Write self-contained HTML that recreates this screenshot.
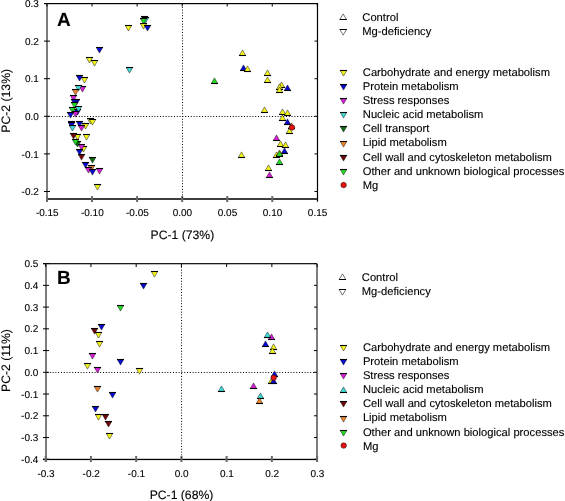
<!DOCTYPE html>
<html><head><meta charset="utf-8"><style>
html,body{margin:0;padding:0;background:#fff;width:565px;height:501px;overflow:hidden}
svg{display:block;will-change:transform}
text{font-family:"Liberation Sans",sans-serif;text-rendering:geometricPrecision;fill:#000;stroke:#000;stroke-width:0.18px;stroke-opacity:0.6}
</style></head><body>
<svg width="565" height="501" viewBox="0 0 565 501">
<rect width="565" height="501" fill="#fff"/>
<rect x="44" y="3" width="274" height="1.2" fill="#000"/>
<rect x="316.9" y="3" width="1.2" height="198.7" fill="#000"/>
<rect x="46" y="3.6" width="2" height="198.1" fill="#7c7c7c"/>
<rect x="47" y="198.1" width="270" height="1.8" fill="#2a2a2a"/>
<rect x="44" y="3.00" width="6" height="1" fill="#000"/>
<rect x="314.5" y="3.00" width="3" height="1" fill="#000"/>
<rect x="44" y="40.60" width="6" height="1" fill="#000"/>
<rect x="314.5" y="40.60" width="3" height="1" fill="#000"/>
<rect x="44" y="78.20" width="6" height="1" fill="#000"/>
<rect x="314.5" y="78.20" width="3" height="1" fill="#000"/>
<rect x="44" y="115.80" width="6" height="1" fill="#000"/>
<rect x="314.5" y="115.80" width="3" height="1" fill="#000"/>
<rect x="44" y="153.40" width="6" height="1" fill="#000"/>
<rect x="314.5" y="153.40" width="3" height="1" fill="#000"/>
<rect x="44" y="191.00" width="6" height="1" fill="#000"/>
<rect x="314.5" y="191.00" width="3" height="1" fill="#000"/>
<rect x="46.00" y="196" width="2" height="6" fill="#6a6a6a"/>
<rect x="46.50" y="3.5" width="1" height="3" fill="#000"/>
<rect x="91.05" y="196" width="2" height="6" fill="#6a6a6a"/>
<rect x="91.55" y="3.5" width="1" height="3" fill="#000"/>
<rect x="136.10" y="196" width="2" height="6" fill="#6a6a6a"/>
<rect x="136.60" y="3.5" width="1" height="3" fill="#000"/>
<rect x="181.15" y="196" width="2" height="6" fill="#6a6a6a"/>
<rect x="181.65" y="3.5" width="1" height="3" fill="#000"/>
<rect x="226.20" y="196" width="2" height="6" fill="#6a6a6a"/>
<rect x="226.70" y="3.5" width="1" height="3" fill="#000"/>
<rect x="271.25" y="196" width="2" height="6" fill="#6a6a6a"/>
<rect x="271.75" y="3.5" width="1" height="3" fill="#000"/>
<rect x="316.80" y="3.5" width="1" height="3" fill="#000"/>
<line x1="48" y1="116.5" x2="317" y2="116.5" stroke="#000" stroke-width="1" stroke-dasharray="1 1.8"/>
<line x1="182.5" y1="4" x2="182.5" y2="198" stroke="#000" stroke-width="1" stroke-dasharray="1 1.8"/>
<text x="38.8" y="7.10" font-size="10" text-anchor="end" font-family="Liberation Sans, sans-serif">0.3</text>
<text x="38.8" y="44.70" font-size="10" text-anchor="end" font-family="Liberation Sans, sans-serif">0.2</text>
<text x="38.8" y="82.30" font-size="10" text-anchor="end" font-family="Liberation Sans, sans-serif">0.1</text>
<text x="38.8" y="119.90" font-size="10" text-anchor="end" font-family="Liberation Sans, sans-serif">0.0</text>
<text x="38.8" y="157.50" font-size="10" text-anchor="end" font-family="Liberation Sans, sans-serif">-0.1</text>
<text x="38.8" y="195.10" font-size="10" text-anchor="end" font-family="Liberation Sans, sans-serif">-0.2</text>
<text x="47.30" y="216.3" font-size="10" text-anchor="middle" font-family="Liberation Sans, sans-serif">-0.15</text>
<text x="92.35" y="216.3" font-size="10" text-anchor="middle" font-family="Liberation Sans, sans-serif">-0.10</text>
<text x="137.40" y="216.3" font-size="10" text-anchor="middle" font-family="Liberation Sans, sans-serif">-0.05</text>
<text x="182.45" y="216.3" font-size="10" text-anchor="middle" font-family="Liberation Sans, sans-serif">0.00</text>
<text x="227.50" y="216.3" font-size="10" text-anchor="middle" font-family="Liberation Sans, sans-serif">0.05</text>
<text x="272.55" y="216.3" font-size="10" text-anchor="middle" font-family="Liberation Sans, sans-serif">0.10</text>
<text x="317.60" y="216.3" font-size="10" text-anchor="middle" font-family="Liberation Sans, sans-serif">0.15</text>
<text x="182.4" y="238.8" font-size="12.2" text-anchor="middle" font-family="Liberation Sans, sans-serif">PC-1 (73%)</text>
<text transform="translate(9.6 100.8) rotate(-90)" x="0" y="0" font-size="12.2" text-anchor="middle" font-family="Liberation Sans, sans-serif">PC-2 (13%)</text>
<text x="57" y="25.7" font-size="19" font-weight="bold" font-family="Liberation Sans, sans-serif">A</text>
<g>
<path d="M125.30 25.50L131.70 25.50L128.50 31.10Z" fill="#f4f41c" stroke="#000" stroke-opacity="0.75" stroke-width="0.6"/><path d="M125.00 25.50H132.00" stroke="#000" stroke-width="1.1"/>
<path d="M141.30 16.50L147.70 16.50L144.50 22.10Z" fill="#0c6e0c" stroke="#000" stroke-opacity="0.75" stroke-width="0.6"/><path d="M141.00 16.50H148.00" stroke="#000" stroke-width="1.1"/>
<path d="M142.30 17.50L148.70 17.50L145.50 23.10Z" fill="#3cdcd8" stroke="#000" stroke-opacity="0.75" stroke-width="0.6"/><path d="M142.00 17.50H149.00" stroke="#000" stroke-width="1.1"/>
<path d="M140.30 18.50L146.70 18.50L143.50 24.10Z" fill="#22dc22" stroke="#000" stroke-opacity="0.75" stroke-width="0.6"/><path d="M140.00 18.50H147.00" stroke="#000" stroke-width="1.1"/>
<path d="M140.30 23.50L146.70 23.50L143.50 29.10Z" fill="#f4f41c" stroke="#000" stroke-opacity="0.75" stroke-width="0.6"/><path d="M140.00 23.50H147.00" stroke="#000" stroke-width="1.1"/>
<path d="M144.30 25.50L150.70 25.50L147.50 31.10Z" fill="#0808d4" stroke="#000" stroke-opacity="0.75" stroke-width="0.6"/><path d="M144.00 25.50H151.00" stroke="#000" stroke-width="1.1"/>
<path d="M96.30 47.50L102.70 47.50L99.50 53.10Z" fill="#0808d4" stroke="#000" stroke-opacity="0.75" stroke-width="0.6"/><path d="M96.00 47.50H103.00" stroke="#000" stroke-width="1.1"/>
<path d="M86.30 57.50L92.70 57.50L89.50 63.10Z" fill="#f4f41c" stroke="#000" stroke-opacity="0.75" stroke-width="0.6"/><path d="M86.00 57.50H93.00" stroke="#000" stroke-width="1.1"/>
<path d="M91.30 60.50L97.70 60.50L94.50 66.10Z" fill="#f4f41c" stroke="#000" stroke-opacity="0.75" stroke-width="0.6"/><path d="M91.00 60.50H98.00" stroke="#000" stroke-width="1.1"/>
<path d="M126.30 67.50L132.70 67.50L129.50 73.10Z" fill="#3cdcd8" stroke="#000" stroke-opacity="0.75" stroke-width="0.6"/><path d="M126.00 67.50H133.00" stroke="#000" stroke-width="1.1"/>
<path d="M76.30 75.50L82.70 75.50L79.50 81.10Z" fill="#0808d4" stroke="#000" stroke-opacity="0.75" stroke-width="0.6"/><path d="M76.00 75.50H83.00" stroke="#000" stroke-width="1.1"/>
<path d="M81.30 77.50L87.70 77.50L84.50 83.10Z" fill="#f4f41c" stroke="#000" stroke-opacity="0.75" stroke-width="0.6"/><path d="M81.00 77.50H88.00" stroke="#000" stroke-width="1.1"/>
<path d="M79.30 86.50L85.70 86.50L82.50 92.10Z" fill="#d81ed8" stroke="#000" stroke-opacity="0.75" stroke-width="0.6"/><path d="M79.00 86.50H86.00" stroke="#000" stroke-width="1.1"/>
<path d="M75.30 85.50L81.70 85.50L78.50 91.10Z" fill="#3cdcd8" stroke="#000" stroke-opacity="0.75" stroke-width="0.6"/><path d="M75.00 85.50H82.00" stroke="#000" stroke-width="1.1"/>
<path d="M72.30 89.50L78.70 89.50L75.50 95.10Z" fill="#ec842a" stroke="#000" stroke-opacity="0.75" stroke-width="0.6"/><path d="M72.00 89.50H79.00" stroke="#000" stroke-width="1.1"/>
<path d="M70.30 95.50L76.70 95.50L73.50 101.10Z" fill="#d81ed8" stroke="#000" stroke-opacity="0.75" stroke-width="0.6"/><path d="M70.00 95.50H77.00" stroke="#000" stroke-width="1.1"/>
<path d="M73.30 99.50L79.70 99.50L76.50 105.10Z" fill="#0808d4" stroke="#000" stroke-opacity="0.75" stroke-width="0.6"/><path d="M73.00 99.50H80.00" stroke="#000" stroke-width="1.1"/>
<path d="M71.30 99.50L77.70 99.50L74.50 105.10Z" fill="#0808d4" stroke="#000" stroke-opacity="0.75" stroke-width="0.6"/><path d="M71.00 99.50H78.00" stroke="#000" stroke-width="1.1"/>
<path d="M71.30 102.50L77.70 102.50L74.50 108.10Z" fill="#22dc22" stroke="#000" stroke-opacity="0.75" stroke-width="0.6"/><path d="M71.00 102.50H78.00" stroke="#000" stroke-width="1.1"/>
<path d="M74.30 109.50L80.70 109.50L77.50 115.10Z" fill="#0808d4" stroke="#000" stroke-opacity="0.75" stroke-width="0.6"/><path d="M74.00 109.50H81.00" stroke="#000" stroke-width="1.1"/>
<path d="M75.30 106.50L81.70 106.50L78.50 112.10Z" fill="#3cdcd8" stroke="#000" stroke-opacity="0.75" stroke-width="0.6"/><path d="M75.00 106.50H82.00" stroke="#000" stroke-width="1.1"/>
<path d="M69.30 107.50L75.70 107.50L72.50 113.10Z" fill="#22dc22" stroke="#000" stroke-opacity="0.75" stroke-width="0.6"/><path d="M69.00 107.50H76.00" stroke="#000" stroke-width="1.1"/>
<path d="M72.30 111.50L78.70 111.50L75.50 117.10Z" fill="#d81ed8" stroke="#000" stroke-opacity="0.75" stroke-width="0.6"/><path d="M72.00 111.50H79.00" stroke="#000" stroke-width="1.1"/>
<path d="M67.30 112.50L73.70 112.50L70.50 118.10Z" fill="#0808d4" stroke="#000" stroke-opacity="0.75" stroke-width="0.6"/><path d="M67.00 112.50H74.00" stroke="#000" stroke-width="1.1"/>
<path d="M68.30 121.50L74.70 121.50L71.50 127.10Z" fill="#0808d4" stroke="#000" stroke-opacity="0.75" stroke-width="0.6"/><path d="M68.00 121.50H75.00" stroke="#000" stroke-width="1.1"/>
<path d="M68.30 122.50L74.70 122.50L71.50 128.10Z" fill="#0808d4" stroke="#000" stroke-opacity="0.75" stroke-width="0.6"/><path d="M68.00 122.50H75.00" stroke="#000" stroke-width="1.1"/>
<path d="M69.30 125.50L75.70 125.50L72.50 131.10Z" fill="#3cdcd8" stroke="#000" stroke-opacity="0.75" stroke-width="0.6"/><path d="M69.00 125.50H76.00" stroke="#000" stroke-width="1.1"/>
<path d="M76.30 121.50L82.70 121.50L79.50 127.10Z" fill="#0808d4" stroke="#000" stroke-opacity="0.75" stroke-width="0.6"/><path d="M76.00 121.50H83.00" stroke="#000" stroke-width="1.1"/>
<path d="M82.30 123.50L88.70 123.50L85.50 129.10Z" fill="#f4f41c" stroke="#000" stroke-opacity="0.75" stroke-width="0.6"/><path d="M82.00 123.50H89.00" stroke="#000" stroke-width="1.1"/>
<path d="M78.30 125.50L84.70 125.50L81.50 131.10Z" fill="#d81ed8" stroke="#000" stroke-opacity="0.75" stroke-width="0.6"/><path d="M78.00 125.50H85.00" stroke="#000" stroke-width="1.1"/>
<path d="M87.30 118.50L93.70 118.50L90.50 124.10Z" fill="#f4f41c" stroke="#000" stroke-opacity="0.75" stroke-width="0.6"/><path d="M87.00 118.50H94.00" stroke="#000" stroke-width="1.1"/>
<path d="M89.30 119.50L95.70 119.50L92.50 125.10Z" fill="#f4f41c" stroke="#000" stroke-opacity="0.75" stroke-width="0.6"/><path d="M89.00 119.50H96.00" stroke="#000" stroke-width="1.1"/>
<path d="M74.30 134.50L80.70 134.50L77.50 140.10Z" fill="#f4f41c" stroke="#000" stroke-opacity="0.75" stroke-width="0.6"/><path d="M74.00 134.50H81.00" stroke="#000" stroke-width="1.1"/>
<path d="M70.30 133.50L76.70 133.50L73.50 139.10Z" fill="#720606" stroke="#000" stroke-opacity="0.75" stroke-width="0.6"/><path d="M70.00 133.50H77.00" stroke="#000" stroke-width="1.1"/>
<path d="M83.30 134.50L89.70 134.50L86.50 140.10Z" fill="#f4f41c" stroke="#000" stroke-opacity="0.75" stroke-width="0.6"/><path d="M83.00 134.50H90.00" stroke="#000" stroke-width="1.1"/>
<path d="M74.30 141.50L80.70 141.50L77.50 147.10Z" fill="#0c6e0c" stroke="#000" stroke-opacity="0.75" stroke-width="0.6"/><path d="M74.00 141.50H81.00" stroke="#000" stroke-width="1.1"/>
<path d="M72.30 139.50L78.70 139.50L75.50 145.10Z" fill="#22dc22" stroke="#000" stroke-opacity="0.75" stroke-width="0.6"/><path d="M72.00 139.50H79.00" stroke="#000" stroke-width="1.1"/>
<path d="M80.30 146.50L86.70 146.50L83.50 152.10Z" fill="#f4f41c" stroke="#000" stroke-opacity="0.75" stroke-width="0.6"/><path d="M80.00 146.50H87.00" stroke="#000" stroke-width="1.1"/>
<path d="M78.30 144.50L84.70 144.50L81.50 150.10Z" fill="#d81ed8" stroke="#000" stroke-opacity="0.75" stroke-width="0.6"/><path d="M78.00 144.50H85.00" stroke="#000" stroke-width="1.1"/>
<path d="M76.30 149.50L82.70 149.50L79.50 155.10Z" fill="#0808d4" stroke="#000" stroke-opacity="0.75" stroke-width="0.6"/><path d="M76.00 149.50H83.00" stroke="#000" stroke-width="1.1"/>
<path d="M78.30 154.50L84.70 154.50L81.50 160.10Z" fill="#720606" stroke="#000" stroke-opacity="0.75" stroke-width="0.6"/><path d="M78.00 154.50H85.00" stroke="#000" stroke-width="1.1"/>
<path d="M89.30 157.50L95.70 157.50L92.50 163.10Z" fill="#0c6e0c" stroke="#000" stroke-opacity="0.75" stroke-width="0.6"/><path d="M89.00 157.50H96.00" stroke="#000" stroke-width="1.1"/>
<path d="M82.30 162.50L88.70 162.50L85.50 168.10Z" fill="#0808d4" stroke="#000" stroke-opacity="0.75" stroke-width="0.6"/><path d="M82.00 162.50H89.00" stroke="#000" stroke-width="1.1"/>
<path d="M88.30 165.50L94.70 165.50L91.50 171.10Z" fill="#ec842a" stroke="#000" stroke-opacity="0.75" stroke-width="0.6"/><path d="M88.00 165.50H95.00" stroke="#000" stroke-width="1.1"/>
<path d="M85.30 167.50L91.70 167.50L88.50 173.10Z" fill="#d81ed8" stroke="#000" stroke-opacity="0.75" stroke-width="0.6"/><path d="M85.00 167.50H92.00" stroke="#000" stroke-width="1.1"/>
<path d="M89.30 169.50L95.70 169.50L92.50 175.10Z" fill="#0808d4" stroke="#000" stroke-opacity="0.75" stroke-width="0.6"/><path d="M89.00 169.50H96.00" stroke="#000" stroke-width="1.1"/>
<path d="M96.30 168.50L102.70 168.50L99.50 174.10Z" fill="#d81ed8" stroke="#000" stroke-opacity="0.75" stroke-width="0.6"/><path d="M96.00 168.50H103.00" stroke="#000" stroke-width="1.1"/>
<path d="M94.30 184.50L100.70 184.50L97.50 190.10Z" fill="#f4f41c" stroke="#000" stroke-opacity="0.75" stroke-width="0.6"/><path d="M94.00 184.50H101.00" stroke="#000" stroke-width="1.1"/>
<path d="M239.30 55.50L245.70 55.50L242.50 49.90Z" fill="#f4f41c" stroke="#000" stroke-opacity="0.75" stroke-width="0.6"/><path d="M239.00 55.50H246.00" stroke="#000" stroke-width="1.1"/>
<path d="M240.30 70.50L246.70 70.50L243.50 64.90Z" fill="#0808d4" stroke="#000" stroke-opacity="0.75" stroke-width="0.6"/><path d="M240.00 70.50H247.00" stroke="#000" stroke-width="1.1"/>
<path d="M244.30 71.50L250.70 71.50L247.50 65.90Z" fill="#f4f41c" stroke="#000" stroke-opacity="0.75" stroke-width="0.6"/><path d="M244.00 71.50H251.00" stroke="#000" stroke-width="1.1"/>
<path d="M211.30 83.50L217.70 83.50L214.50 77.90Z" fill="#22dc22" stroke="#000" stroke-opacity="0.75" stroke-width="0.6"/><path d="M211.00 83.50H218.00" stroke="#000" stroke-width="1.1"/>
<path d="M264.30 75.50L270.70 75.50L267.50 69.90Z" fill="#f4f41c" stroke="#000" stroke-opacity="0.75" stroke-width="0.6"/><path d="M264.00 75.50H271.00" stroke="#000" stroke-width="1.1"/>
<path d="M264.30 82.50L270.70 82.50L267.50 76.90Z" fill="#f4f41c" stroke="#000" stroke-opacity="0.75" stroke-width="0.6"/><path d="M264.00 82.50H271.00" stroke="#000" stroke-width="1.1"/>
<path d="M278.30 87.50L284.70 87.50L281.50 81.90Z" fill="#f4f41c" stroke="#000" stroke-opacity="0.75" stroke-width="0.6"/><path d="M278.00 87.50H285.00" stroke="#000" stroke-width="1.1"/>
<path d="M284.30 90.50L290.70 90.50L287.50 84.90Z" fill="#0808d4" stroke="#000" stroke-opacity="0.75" stroke-width="0.6"/><path d="M284.00 90.50H291.00" stroke="#000" stroke-width="1.1"/>
<path d="M276.30 89.50L282.70 89.50L279.50 83.90Z" fill="#f4f41c" stroke="#000" stroke-opacity="0.75" stroke-width="0.6"/><path d="M276.00 89.50H283.00" stroke="#000" stroke-width="1.1"/>
<path d="M276.30 92.50L282.70 92.50L279.50 86.90Z" fill="#f4f41c" stroke="#000" stroke-opacity="0.75" stroke-width="0.6"/><path d="M276.00 92.50H283.00" stroke="#000" stroke-width="1.1"/>
<path d="M261.30 112.50L267.70 112.50L264.50 106.90Z" fill="#f4f41c" stroke="#000" stroke-opacity="0.75" stroke-width="0.6"/><path d="M261.00 112.50H268.00" stroke="#000" stroke-width="1.1"/>
<path d="M279.30 114.50L285.70 114.50L282.50 108.90Z" fill="#f4f41c" stroke="#000" stroke-opacity="0.75" stroke-width="0.6"/><path d="M279.00 114.50H286.00" stroke="#000" stroke-width="1.1"/>
<path d="M284.30 115.50L290.70 115.50L287.50 109.90Z" fill="#f4f41c" stroke="#000" stroke-opacity="0.75" stroke-width="0.6"/><path d="M284.00 115.50H291.00" stroke="#000" stroke-width="1.1"/>
<path d="M279.30 120.50L285.70 120.50L282.50 114.90Z" fill="#f4f41c" stroke="#000" stroke-opacity="0.75" stroke-width="0.6"/><path d="M279.00 120.50H286.00" stroke="#000" stroke-width="1.1"/>
<path d="M284.30 124.50L290.70 124.50L287.50 118.90Z" fill="#0808d4" stroke="#000" stroke-opacity="0.75" stroke-width="0.6"/><path d="M284.00 124.50H291.00" stroke="#000" stroke-width="1.1"/>
<path d="M288.30 128.50L294.70 128.50L291.50 122.90Z" fill="#ec842a" stroke="#000" stroke-opacity="0.75" stroke-width="0.6"/><path d="M288.00 128.50H295.00" stroke="#000" stroke-width="1.1"/>
<path d="M286.30 133.50L292.70 133.50L289.50 127.90Z" fill="#f4f41c" stroke="#000" stroke-opacity="0.75" stroke-width="0.6"/><path d="M286.00 133.50H293.00" stroke="#000" stroke-width="1.1"/>
<path d="M273.30 140.50L279.70 140.50L276.50 134.90Z" fill="#d81ed8" stroke="#000" stroke-opacity="0.75" stroke-width="0.6"/><path d="M273.00 140.50H280.00" stroke="#000" stroke-width="1.1"/>
<path d="M277.30 146.50L283.70 146.50L280.50 140.90Z" fill="#f4f41c" stroke="#000" stroke-opacity="0.75" stroke-width="0.6"/><path d="M277.00 146.50H284.00" stroke="#000" stroke-width="1.1"/>
<path d="M282.30 147.50L288.70 147.50L285.50 141.90Z" fill="#f4f41c" stroke="#000" stroke-opacity="0.75" stroke-width="0.6"/><path d="M282.00 147.50H289.00" stroke="#000" stroke-width="1.1"/>
<path d="M281.30 153.50L287.70 153.50L284.50 147.90Z" fill="#0808d4" stroke="#000" stroke-opacity="0.75" stroke-width="0.6"/><path d="M281.00 153.50H288.00" stroke="#000" stroke-width="1.1"/>
<path d="M273.30 157.50L279.70 157.50L276.50 151.90Z" fill="#f4f41c" stroke="#000" stroke-opacity="0.75" stroke-width="0.6"/><path d="M273.00 157.50H280.00" stroke="#000" stroke-width="1.1"/>
<path d="M276.30 155.50L282.70 155.50L279.50 149.90Z" fill="#f4f41c" stroke="#000" stroke-opacity="0.75" stroke-width="0.6"/><path d="M276.00 155.50H283.00" stroke="#000" stroke-width="1.1"/>
<path d="M276.30 156.50L282.70 156.50L279.50 150.90Z" fill="#22dc22" stroke="#000" stroke-opacity="0.75" stroke-width="0.6"/><path d="M276.00 156.50H283.00" stroke="#000" stroke-width="1.1"/>
<path d="M276.30 164.50L282.70 164.50L279.50 158.90Z" fill="#22dc22" stroke="#000" stroke-opacity="0.75" stroke-width="0.6"/><path d="M276.00 164.50H283.00" stroke="#000" stroke-width="1.1"/>
<path d="M265.30 170.50L271.70 170.50L268.50 164.90Z" fill="#f4f41c" stroke="#000" stroke-opacity="0.75" stroke-width="0.6"/><path d="M265.00 170.50H272.00" stroke="#000" stroke-width="1.1"/>
<path d="M266.30 177.50L272.70 177.50L269.50 171.90Z" fill="#d81ed8" stroke="#000" stroke-opacity="0.75" stroke-width="0.6"/><path d="M266.00 177.50H273.00" stroke="#000" stroke-width="1.1"/>
<path d="M238.30 157.50L244.70 157.50L241.50 151.90Z" fill="#f4f41c" stroke="#000" stroke-opacity="0.75" stroke-width="0.6"/><path d="M238.00 157.50H245.00" stroke="#000" stroke-width="1.1"/>
<circle cx="292.00" cy="127.50" r="2.75" fill="#e81212" stroke="#000" stroke-width="0.6" stroke-opacity="0.8"/>
</g>
<g stroke="#444" stroke-width="0.75" fill="none">
<path d="M339.9 19.5H346.5L343.2 13.9Z"/>
<path d="M339.9 29.5H346.5L343.2 35.1Z"/>
<path d="M339.7 19.5H346.7M339.7 29.5H346.7" stroke="#000" stroke-width="1.1"/>
</g>
<text x="362.3" y="21.1" font-size="11.2" font-family="Liberation Sans, sans-serif">Control</text>
<text x="362.3" y="35.3" font-size="11.2" font-family="Liberation Sans, sans-serif">Mg-deficiency</text>
<g>
<path d="M340.30 70.50L346.70 70.50L343.50 76.10Z" fill="#f4f41c" stroke="#000" stroke-opacity="0.75" stroke-width="0.6"/><path d="M340.00 70.50H347.00" stroke="#000" stroke-width="1.1"/>
<path d="M340.30 84.50L346.70 84.50L343.50 90.10Z" fill="#0808d4" stroke="#000" stroke-opacity="0.75" stroke-width="0.6"/><path d="M340.00 84.50H347.00" stroke="#000" stroke-width="1.1"/>
<path d="M340.30 98.50L346.70 98.50L343.50 104.10Z" fill="#d81ed8" stroke="#000" stroke-opacity="0.75" stroke-width="0.6"/><path d="M340.00 98.50H347.00" stroke="#000" stroke-width="1.1"/>
<path d="M340.30 112.50L346.70 112.50L343.50 118.10Z" fill="#3cdcd8" stroke="#000" stroke-opacity="0.75" stroke-width="0.6"/><path d="M340.00 112.50H347.00" stroke="#000" stroke-width="1.1"/>
<path d="M340.30 126.50L346.70 126.50L343.50 132.10Z" fill="#0c6e0c" stroke="#000" stroke-opacity="0.75" stroke-width="0.6"/><path d="M340.00 126.50H347.00" stroke="#000" stroke-width="1.1"/>
<path d="M340.30 141.50L346.70 141.50L343.50 147.10Z" fill="#ec842a" stroke="#000" stroke-opacity="0.75" stroke-width="0.6"/><path d="M340.00 141.50H347.00" stroke="#000" stroke-width="1.1"/>
<path d="M340.30 155.50L346.70 155.50L343.50 161.10Z" fill="#720606" stroke="#000" stroke-opacity="0.75" stroke-width="0.6"/><path d="M340.00 155.50H347.00" stroke="#000" stroke-width="1.1"/>
<path d="M340.30 169.50L346.70 169.50L343.50 175.10Z" fill="#22dc22" stroke="#000" stroke-opacity="0.75" stroke-width="0.6"/><path d="M340.00 169.50H347.00" stroke="#000" stroke-width="1.1"/>
<circle cx="343.60" cy="185.10" r="2.75" fill="#e81212" stroke="#000" stroke-width="0.6" stroke-opacity="0.8"/>
</g>
<text x="362.8" y="75.80" font-size="11.2" font-family="Liberation Sans, sans-serif">Carbohydrate and energy metabolism</text>
<text x="362.8" y="89.92" font-size="11.2" font-family="Liberation Sans, sans-serif">Protein metabolism</text>
<text x="362.8" y="104.04" font-size="11.2" font-family="Liberation Sans, sans-serif">Stress responses</text>
<text x="362.8" y="118.16" font-size="11.2" font-family="Liberation Sans, sans-serif">Nucleic acid metabolism</text>
<text x="362.8" y="132.28" font-size="11.2" font-family="Liberation Sans, sans-serif">Cell transport</text>
<text x="362.8" y="146.40" font-size="11.2" font-family="Liberation Sans, sans-serif">Lipid metabolism</text>
<text x="362.8" y="160.52" font-size="11.2" font-family="Liberation Sans, sans-serif">Cell wall and cytoskeleton metabolism</text>
<text x="362.8" y="174.64" font-size="11.2" font-family="Liberation Sans, sans-serif">Other and unknown biological processes</text>
<text x="362.8" y="188.76" font-size="11.2" font-family="Liberation Sans, sans-serif">Mg</text>
<rect x="43" y="263" width="273.5" height="1.3" fill="#1a1a1a"/>
<rect x="43" y="458.8" width="273.5" height="1.3" fill="#000"/>
<rect x="45" y="263.5" width="2" height="198.5" fill="#7c7c7c"/>
<rect x="316" y="263.5" width="2" height="198.5" fill="#7c7c7c"/>
<rect x="43" y="263.10" width="6" height="1" fill="#000"/>
<rect x="314" y="263.10" width="3" height="1" fill="#000"/>
<text x="38.3" y="267.20" font-size="10" text-anchor="end" font-family="Liberation Sans, sans-serif">0.5</text>
<rect x="43" y="284.84" width="6" height="1" fill="#000"/>
<rect x="314" y="284.84" width="3" height="1" fill="#000"/>
<text x="38.3" y="288.94" font-size="10" text-anchor="end" font-family="Liberation Sans, sans-serif">0.4</text>
<rect x="43" y="306.58" width="6" height="1" fill="#000"/>
<rect x="314" y="306.58" width="3" height="1" fill="#000"/>
<text x="38.3" y="310.68" font-size="10" text-anchor="end" font-family="Liberation Sans, sans-serif">0.3</text>
<rect x="43" y="328.32" width="6" height="1" fill="#000"/>
<rect x="314" y="328.32" width="3" height="1" fill="#000"/>
<text x="38.3" y="332.42" font-size="10" text-anchor="end" font-family="Liberation Sans, sans-serif">0.2</text>
<rect x="43" y="350.06" width="6" height="1" fill="#000"/>
<rect x="314" y="350.06" width="3" height="1" fill="#000"/>
<text x="38.3" y="354.16" font-size="10" text-anchor="end" font-family="Liberation Sans, sans-serif">0.1</text>
<rect x="43" y="371.80" width="6" height="1" fill="#000"/>
<rect x="314" y="371.80" width="3" height="1" fill="#000"/>
<text x="38.3" y="375.90" font-size="10" text-anchor="end" font-family="Liberation Sans, sans-serif">0.0</text>
<rect x="43" y="393.54" width="6" height="1" fill="#000"/>
<rect x="314" y="393.54" width="3" height="1" fill="#000"/>
<text x="38.3" y="397.64" font-size="10" text-anchor="end" font-family="Liberation Sans, sans-serif">-0.1</text>
<rect x="43" y="415.28" width="6" height="1" fill="#000"/>
<rect x="314" y="415.28" width="3" height="1" fill="#000"/>
<text x="38.3" y="419.38" font-size="10" text-anchor="end" font-family="Liberation Sans, sans-serif">-0.2</text>
<rect x="43" y="437.02" width="6" height="1" fill="#000"/>
<rect x="314" y="437.02" width="3" height="1" fill="#000"/>
<text x="38.3" y="441.12" font-size="10" text-anchor="end" font-family="Liberation Sans, sans-serif">-0.3</text>
<rect x="43" y="458.76" width="6" height="1" fill="#000"/>
<rect x="314" y="458.76" width="3" height="1" fill="#000"/>
<text x="38.3" y="462.86" font-size="10" text-anchor="end" font-family="Liberation Sans, sans-serif">-0.4</text>
<rect x="44.71" y="456" width="2" height="6" fill="#6a6a6a"/>
<rect x="45.21" y="264" width="1" height="3" fill="#000"/>
<text x="46.01" y="476.5" font-size="10" text-anchor="middle" font-family="Liberation Sans, sans-serif">-0.3</text>
<rect x="89.94" y="456" width="2" height="6" fill="#6a6a6a"/>
<rect x="90.44" y="264" width="1" height="3" fill="#000"/>
<text x="91.24" y="476.5" font-size="10" text-anchor="middle" font-family="Liberation Sans, sans-serif">-0.2</text>
<rect x="135.17" y="456" width="2" height="6" fill="#6a6a6a"/>
<rect x="135.67" y="264" width="1" height="3" fill="#000"/>
<text x="136.47" y="476.5" font-size="10" text-anchor="middle" font-family="Liberation Sans, sans-serif">-0.1</text>
<rect x="180.40" y="456" width="2" height="6" fill="#6a6a6a"/>
<rect x="180.90" y="264" width="1" height="3" fill="#000"/>
<text x="181.70" y="476.5" font-size="10" text-anchor="middle" font-family="Liberation Sans, sans-serif">0.0</text>
<rect x="225.63" y="456" width="2" height="6" fill="#6a6a6a"/>
<rect x="226.13" y="264" width="1" height="3" fill="#000"/>
<text x="226.93" y="476.5" font-size="10" text-anchor="middle" font-family="Liberation Sans, sans-serif">0.1</text>
<rect x="270.86" y="456" width="2" height="6" fill="#6a6a6a"/>
<rect x="271.36" y="264" width="1" height="3" fill="#000"/>
<text x="272.16" y="476.5" font-size="10" text-anchor="middle" font-family="Liberation Sans, sans-serif">0.2</text>
<rect x="316.09" y="456" width="2" height="6" fill="#6a6a6a"/>
<rect x="316.59" y="264" width="1" height="3" fill="#000"/>
<text x="317.39" y="476.5" font-size="10" text-anchor="middle" font-family="Liberation Sans, sans-serif">0.3</text>
<line x1="47" y1="372.5" x2="316" y2="372.5" stroke="#000" stroke-width="1" stroke-dasharray="1 1.8"/>
<line x1="181.5" y1="264" x2="181.6" y2="458" stroke="#000" stroke-width="1" stroke-dasharray="1 1.8"/>
<text x="181.5" y="498.6" font-size="12.2" text-anchor="middle" font-family="Liberation Sans, sans-serif">PC-1 (68%)</text>
<text transform="translate(9.6 360.5) rotate(-90)" x="0" y="0" font-size="12.2" text-anchor="middle" font-family="Liberation Sans, sans-serif">PC-2 (11%)</text>
<text x="57" y="284" font-size="19" font-weight="bold" font-family="Liberation Sans, sans-serif">B</text>
<g>
<path d="M151.30 271.50L157.70 271.50L154.50 277.10Z" fill="#f4f41c" stroke="#000" stroke-opacity="0.75" stroke-width="0.6"/><path d="M151.00 271.50H158.00" stroke="#000" stroke-width="1.1"/>
<path d="M140.30 283.50L146.70 283.50L143.50 289.10Z" fill="#0808d4" stroke="#000" stroke-opacity="0.75" stroke-width="0.6"/><path d="M140.00 283.50H147.00" stroke="#000" stroke-width="1.1"/>
<path d="M117.30 305.50L123.70 305.50L120.50 311.10Z" fill="#22dc22" stroke="#000" stroke-opacity="0.75" stroke-width="0.6"/><path d="M117.00 305.50H124.00" stroke="#000" stroke-width="1.1"/>
<path d="M98.30 324.50L104.70 324.50L101.50 330.10Z" fill="#0808d4" stroke="#000" stroke-opacity="0.75" stroke-width="0.6"/><path d="M98.00 324.50H105.00" stroke="#000" stroke-width="1.1"/>
<path d="M91.30 328.50L97.70 328.50L94.50 334.10Z" fill="#720606" stroke="#000" stroke-opacity="0.75" stroke-width="0.6"/><path d="M91.00 328.50H98.00" stroke="#000" stroke-width="1.1"/>
<path d="M95.30 332.50L101.70 332.50L98.50 338.10Z" fill="#f4f41c" stroke="#000" stroke-opacity="0.75" stroke-width="0.6"/><path d="M95.00 332.50H102.00" stroke="#000" stroke-width="1.1"/>
<path d="M96.30 341.50L102.70 341.50L99.50 347.10Z" fill="#f4f41c" stroke="#000" stroke-opacity="0.75" stroke-width="0.6"/><path d="M96.00 341.50H103.00" stroke="#000" stroke-width="1.1"/>
<path d="M89.30 353.50L95.70 353.50L92.50 359.10Z" fill="#d81ed8" stroke="#000" stroke-opacity="0.75" stroke-width="0.6"/><path d="M89.00 353.50H96.00" stroke="#000" stroke-width="1.1"/>
<path d="M117.30 359.50L123.70 359.50L120.50 365.10Z" fill="#0808d4" stroke="#000" stroke-opacity="0.75" stroke-width="0.6"/><path d="M117.00 359.50H124.00" stroke="#000" stroke-width="1.1"/>
<path d="M84.30 363.50L90.70 363.50L87.50 369.10Z" fill="#f4f41c" stroke="#000" stroke-opacity="0.75" stroke-width="0.6"/><path d="M84.00 363.50H91.00" stroke="#000" stroke-width="1.1"/>
<path d="M94.30 367.50L100.70 367.50L97.50 373.10Z" fill="#d81ed8" stroke="#000" stroke-opacity="0.75" stroke-width="0.6"/><path d="M94.00 367.50H101.00" stroke="#000" stroke-width="1.1"/>
<path d="M136.30 368.50L142.70 368.50L139.50 374.10Z" fill="#f4f41c" stroke="#000" stroke-opacity="0.75" stroke-width="0.6"/><path d="M136.00 368.50H143.00" stroke="#000" stroke-width="1.1"/>
<path d="M94.30 386.50L100.70 386.50L97.50 392.10Z" fill="#ec842a" stroke="#000" stroke-opacity="0.75" stroke-width="0.6"/><path d="M94.00 386.50H101.00" stroke="#000" stroke-width="1.1"/>
<path d="M109.30 392.50L115.70 392.50L112.50 398.10Z" fill="#0808d4" stroke="#000" stroke-opacity="0.75" stroke-width="0.6"/><path d="M109.00 392.50H116.00" stroke="#000" stroke-width="1.1"/>
<path d="M92.30 406.50L98.70 406.50L95.50 412.10Z" fill="#0808d4" stroke="#000" stroke-opacity="0.75" stroke-width="0.6"/><path d="M92.00 406.50H99.00" stroke="#000" stroke-width="1.1"/>
<path d="M95.30 414.50L101.70 414.50L98.50 420.10Z" fill="#f4f41c" stroke="#000" stroke-opacity="0.75" stroke-width="0.6"/><path d="M95.00 414.50H102.00" stroke="#000" stroke-width="1.1"/>
<path d="M102.30 414.50L108.70 414.50L105.50 420.10Z" fill="#720606" stroke="#000" stroke-opacity="0.75" stroke-width="0.6"/><path d="M102.00 414.50H109.00" stroke="#000" stroke-width="1.1"/>
<path d="M105.30 421.50L111.70 421.50L108.50 427.10Z" fill="#720606" stroke="#000" stroke-opacity="0.75" stroke-width="0.6"/><path d="M105.00 421.50H112.00" stroke="#000" stroke-width="1.1"/>
<path d="M106.30 433.50L112.70 433.50L109.50 439.10Z" fill="#f4f41c" stroke="#000" stroke-opacity="0.75" stroke-width="0.6"/><path d="M106.00 433.50H113.00" stroke="#000" stroke-width="1.1"/>
<path d="M268.30 339.50L274.70 339.50L271.50 333.90Z" fill="#d81ed8" stroke="#000" stroke-opacity="0.75" stroke-width="0.6"/><path d="M268.00 339.50H275.00" stroke="#000" stroke-width="1.1"/>
<path d="M264.30 337.50L270.70 337.50L267.50 331.90Z" fill="#3cdcd8" stroke="#000" stroke-opacity="0.75" stroke-width="0.6"/><path d="M264.00 337.50H271.00" stroke="#000" stroke-width="1.1"/>
<path d="M262.30 346.50L268.70 346.50L265.50 340.90Z" fill="#0808d4" stroke="#000" stroke-opacity="0.75" stroke-width="0.6"/><path d="M262.00 346.50H269.00" stroke="#000" stroke-width="1.1"/>
<path d="M270.30 349.50L276.70 349.50L273.50 343.90Z" fill="#f4f41c" stroke="#000" stroke-opacity="0.75" stroke-width="0.6"/><path d="M270.00 349.50H277.00" stroke="#000" stroke-width="1.1"/>
<path d="M269.30 353.50L275.70 353.50L272.50 347.90Z" fill="#f4f41c" stroke="#000" stroke-opacity="0.75" stroke-width="0.6"/><path d="M269.00 353.50H276.00" stroke="#000" stroke-width="1.1"/>
<path d="M271.30 376.50L277.70 376.50L274.50 370.90Z" fill="#0808d4" stroke="#000" stroke-opacity="0.75" stroke-width="0.6"/><path d="M271.00 376.50H278.00" stroke="#000" stroke-width="1.1"/>
<path d="M268.30 383.50L274.70 383.50L271.50 377.90Z" fill="#f4f41c" stroke="#000" stroke-opacity="0.75" stroke-width="0.6"/><path d="M268.00 383.50H275.00" stroke="#000" stroke-width="1.1"/>
<path d="M270.30 383.50L276.70 383.50L273.50 377.90Z" fill="#0808d4" stroke="#000" stroke-opacity="0.75" stroke-width="0.6"/><path d="M270.00 383.50H277.00" stroke="#000" stroke-width="1.1"/>
<path d="M218.30 391.50L224.70 391.50L221.50 385.90Z" fill="#3cdcd8" stroke="#000" stroke-opacity="0.75" stroke-width="0.6"/><path d="M218.00 391.50H225.00" stroke="#000" stroke-width="1.1"/>
<path d="M250.30 388.50L256.70 388.50L253.50 382.90Z" fill="#d81ed8" stroke="#000" stroke-opacity="0.75" stroke-width="0.6"/><path d="M250.00 388.50H257.00" stroke="#000" stroke-width="1.1"/>
<path d="M257.30 398.50L263.70 398.50L260.50 392.90Z" fill="#3cdcd8" stroke="#000" stroke-opacity="0.75" stroke-width="0.6"/><path d="M257.00 398.50H264.00" stroke="#000" stroke-width="1.1"/>
<path d="M256.30 403.50L262.70 403.50L259.50 397.90Z" fill="#ec842a" stroke="#000" stroke-opacity="0.75" stroke-width="0.6"/><path d="M256.00 403.50H263.00" stroke="#000" stroke-width="1.1"/>
<circle cx="273.70" cy="377.70" r="2.75" fill="#e81212" stroke="#000" stroke-width="0.6" stroke-opacity="0.8"/>
</g>
<g stroke="#444" stroke-width="0.75" fill="none">
<path d="M339.2 279.5H345.8L342.5 273.9Z"/>
<path d="M339.2 289.5H345.8L342.5 295.1Z"/>
<path d="M339.0 279.5H346.0M339.0 289.5H346.0" stroke="#000" stroke-width="1.1"/>
</g>
<text x="361.8" y="280.7" font-size="11.2" font-family="Liberation Sans, sans-serif">Control</text>
<text x="361.8" y="294.9" font-size="11.2" font-family="Liberation Sans, sans-serif">Mg-deficiency</text>
<g>
<path d="M340.30 345.50L346.70 345.50L343.50 351.10Z" fill="#f4f41c" stroke="#000" stroke-opacity="0.75" stroke-width="0.6"/><path d="M340.00 345.50H347.00" stroke="#000" stroke-width="1.1"/>
<path d="M340.30 359.50L346.70 359.50L343.50 365.10Z" fill="#0808d4" stroke="#000" stroke-opacity="0.75" stroke-width="0.6"/><path d="M340.00 359.50H347.00" stroke="#000" stroke-width="1.1"/>
<path d="M340.30 373.50L346.70 373.50L343.50 379.10Z" fill="#d81ed8" stroke="#000" stroke-opacity="0.75" stroke-width="0.6"/><path d="M340.00 373.50H347.00" stroke="#000" stroke-width="1.1"/>
<path d="M340.30 392.50L346.70 392.50L343.50 386.90Z" fill="#3cdcd8" stroke="#000" stroke-opacity="0.75" stroke-width="0.6"/><path d="M340.00 392.50H347.00" stroke="#000" stroke-width="1.1"/>
<path d="M340.30 401.50L346.70 401.50L343.50 407.10Z" fill="#720606" stroke="#000" stroke-opacity="0.75" stroke-width="0.6"/><path d="M340.00 401.50H347.00" stroke="#000" stroke-width="1.1"/>
<path d="M340.30 416.50L346.70 416.50L343.50 422.10Z" fill="#ec842a" stroke="#000" stroke-opacity="0.75" stroke-width="0.6"/><path d="M340.00 416.50H347.00" stroke="#000" stroke-width="1.1"/>
<path d="M340.30 430.50L346.70 430.50L343.50 436.10Z" fill="#22dc22" stroke="#000" stroke-opacity="0.75" stroke-width="0.6"/><path d="M340.00 430.50H347.00" stroke="#000" stroke-width="1.1"/>
<circle cx="343.70" cy="445.60" r="2.75" fill="#e81212" stroke="#000" stroke-width="0.6" stroke-opacity="0.8"/>
</g>
<text x="362.9" y="350.60" font-size="11.2" font-family="Liberation Sans, sans-serif">Carbohydrate and energy metabolism</text>
<text x="362.9" y="364.77" font-size="11.2" font-family="Liberation Sans, sans-serif">Protein metabolism</text>
<text x="362.9" y="378.94" font-size="11.2" font-family="Liberation Sans, sans-serif">Stress responses</text>
<text x="362.9" y="393.11" font-size="11.2" font-family="Liberation Sans, sans-serif">Nucleic acid metabolism</text>
<text x="362.9" y="407.28" font-size="11.2" font-family="Liberation Sans, sans-serif">Cell wall and cytoskeleton metabolism</text>
<text x="362.9" y="421.45" font-size="11.2" font-family="Liberation Sans, sans-serif">Lipid metabolism</text>
<text x="362.9" y="435.62" font-size="11.2" font-family="Liberation Sans, sans-serif">Other and unknown biological processes</text>
<text x="362.9" y="449.79" font-size="11.2" font-family="Liberation Sans, sans-serif">Mg</text>
</svg>
</body></html>
